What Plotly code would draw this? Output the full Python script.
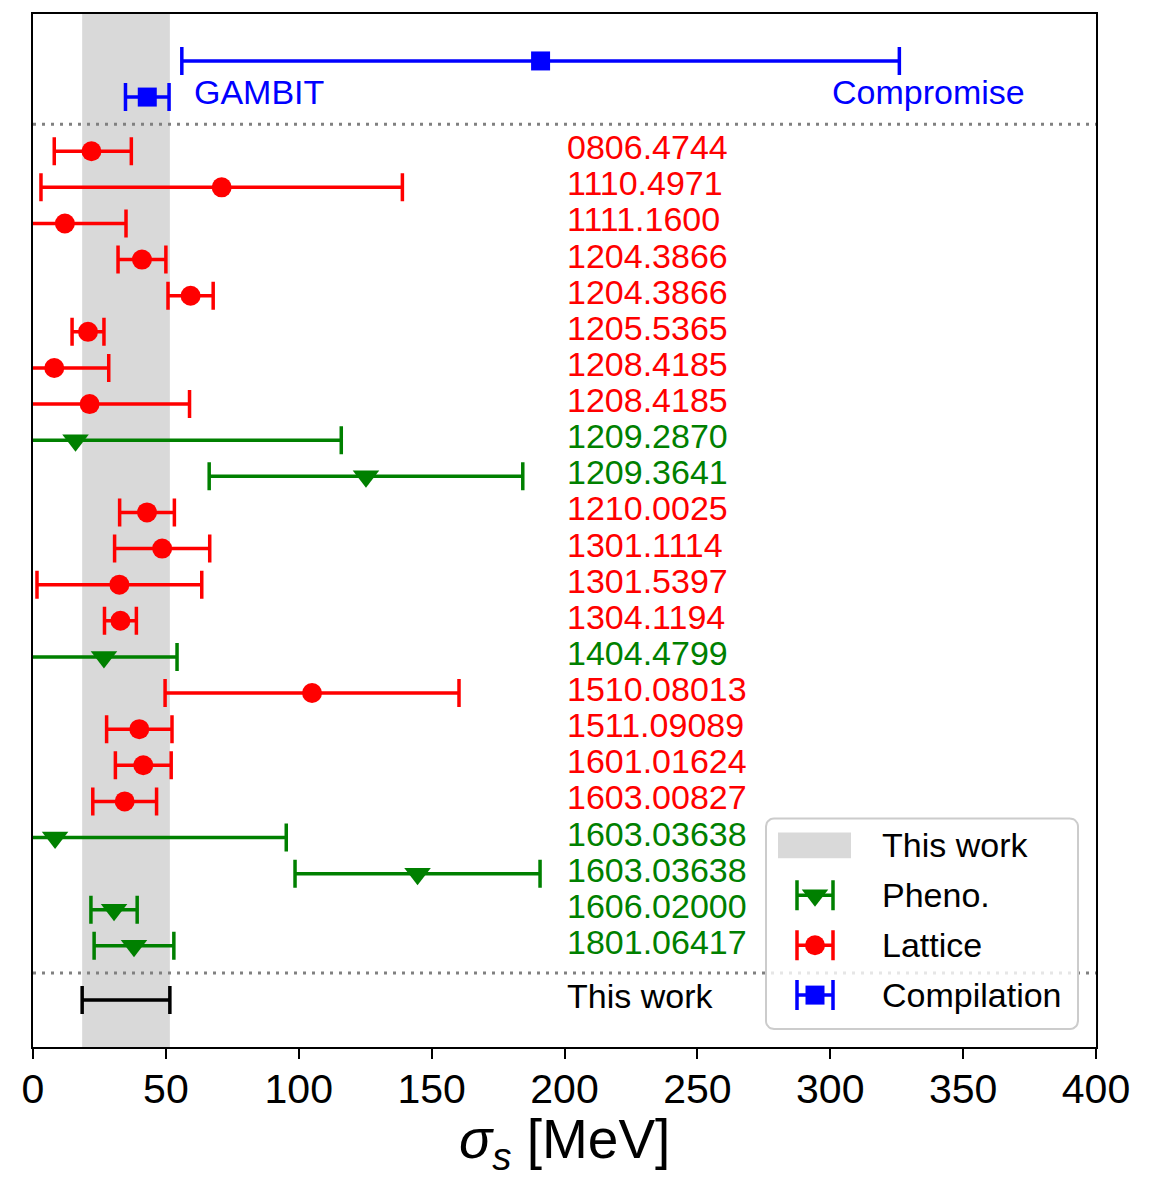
import numpy as np
import plotly.graph_objects as go

# ---------------- data ----------------
labels = ["0806.4744", "1110.4971", "1111.1600", "1204.3866", "1204.3866",
          "1205.5365", "1208.4185", "1208.4185", "1209.2870", "1209.3641",
          "1210.0025", "1301.1114", "1301.5397", "1304.1194", "1404.4799",
          "1510.08013", "1511.09089", "1601.01624", "1603.00827", "1603.03638",
          "1603.03638", "1606.02000", "1801.06417"]
kinds = ["L", "L", "L", "L", "L", "L", "L", "L", "P", "P", "L", "L", "L", "L",
         "P", "L", "L", "L", "L", "P", "P", "P", "P"]
values = [22, 71, 12, 41, 59.3, 20.7, 8, 21.3, 16, 125.3, 42.9, 48.6, 32.5,
          32.9, 26.7, 105, 40, 41.5, 34.5, 8.3, 144.7, 30.5, 38]
err_minus = [14, 68, 23, 9, 8.5, 6, 20.5, 37.6, 100, 59, 10.3, 17.9, 31, 6,
             27.5, 55.3, 12.3, 10.5, 12, 87, 46.1, 8.7, 15]
err_plus = [15, 68, 23, 9, 8.5, 6, 20.5, 37.6, 100, 59, 10.3, 17.9, 31, 6,
            27.5, 55.3, 12.3, 10.5, 12, 87, 46.1, 8.7, 15]

comp_names = ["Compromise", "GAMBIT"]
comp_values = [191, 43]
comp_err = [135, 8.2]

this_work_label = "This work"
this_work_value = 35
this_work_err = 16.5

legend_labels = ["This work", "Pheno.", "Lattice", "Compilation"]
xticks = [0, 50, 100, 150, 200, 250, 300, 350, 400]

# ---------------- styles ----------------
RED, GREEN, BLUE, GRAY = "#ff0000", "#008000", "#0000ff", "#d9d9d9"
FONT = "Liberation Sans, Arial, Helvetica, sans-serif"
colors = {"L": RED, "P": GREEN}
symbols = {"L": "circle", "P": "triangle-down"}
msize = {"L": 20, "P": 23}
names = {"L": "Lattice", "P": "Pheno."}
EB_T, EB_W = 3.5, 14

W, H = 1156, 1177
ML, MR, MT, MB = 33, 60, 12, 130
YR = [24.8, -3.8]  # reversed y range (rows go downward)
XR = [0, 400]

fig = go.Figure()

# main data traces
for k in ["L", "P"]:
    idx = [i for i, kk in enumerate(kinds) if kk == k]
    fig.add_trace(go.Scatter(
        x=[values[i] for i in idx], y=idx, mode="markers",
        marker=dict(symbol=symbols[k], size=msize[k], color=colors[k]),
        error_x=dict(type="data", symmetric=False,
                     array=[err_plus[i] for i in idx],
                     arrayminus=[err_minus[i] for i in idx],
                     color=colors[k], thickness=EB_T, width=EB_W),
        name=names[k], showlegend=False))

comp_rows = [-2.5, -1.5]
fig.add_trace(go.Scatter(
    x=comp_values, y=comp_rows, mode="markers",
    marker=dict(symbol="square", size=19, color=BLUE),
    error_x=dict(type="data", array=comp_err, color=BLUE, thickness=EB_T, width=EB_W),
    name="Compilation", showlegend=False))

tw_row = len(labels) + 0.5
fig.add_trace(go.Scatter(
    x=[this_work_value], y=[tw_row], mode="markers",
    marker=dict(size=1, color="black", opacity=0),
    error_x=dict(type="data", array=[this_work_err], color="black", thickness=EB_T, width=EB_W),
    name=this_work_label, showlegend=False))

# shaded band for this work
fig.add_shape(type="rect", xref="x", yref="y",
              x0=this_work_value - this_work_err, x1=this_work_value + this_work_err,
              y0=YR[0], y1=YR[1], fillcolor=GRAY, line_width=0, layer="below")
# dotted separators
for yy in [-0.75, len(labels) - 0.25]:
    fig.add_shape(type="line", xref="x", yref="y", x0=XR[0], x1=XR[1], y0=yy, y1=yy,
                  line=dict(color="#808080", width=3, dash="3px,6px"), layer="below")

# labels
ann = []
for i, (lab, k) in enumerate(zip(labels, kinds)):
    ann.append(dict(x=200, y=i, xref="x", yref="y", text=lab, showarrow=False,
                    xanchor="left", yanchor="middle", yshift=4,
                    font=dict(family=FONT, size=34, color=colors[k])))
ann.append(dict(x=60, y=-1.5, xref="x", yref="y", text=comp_names[1], showarrow=False,
                xanchor="left", yanchor="middle", yshift=5,
                font=dict(family=FONT, size=34, color=BLUE)))
ann.append(dict(x=300, y=-1.5, xref="x", yref="y", text=comp_names[0], showarrow=False,
                xanchor="left", yanchor="middle", yshift=5,
                font=dict(family=FONT, size=34, color=BLUE)))
ann.append(dict(x=200, y=tw_row, xref="x", yref="y", text=this_work_label, showarrow=False,
                xanchor="left", yanchor="middle", yshift=4,
                font=dict(family=FONT, size=34, color="black")))
# axis title
ann.append(dict(x=0.5, y=-96 / (H - MT - MB), xref="paper", yref="paper",
                text="<i>σ<sub>s</sub></i> [MeV]", showarrow=False,
                xanchor="center", yanchor="middle",
                font=dict(family=FONT, size=55, color="black")))

# ---------------- hand-drawn legend (pixel canvas on x2/y2) ----------------
bx0, bx1, by0, by1, rr = 766, 1078, 818, 1029, 8
t = np.linspace(0, np.pi / 2, 8)
px, py = [], []
for cx, cy, a0 in [(bx1 - rr, by0 + rr, -np.pi / 2), (bx1 - rr, by1 - rr, 0),
                   (bx0 + rr, by1 - rr, np.pi / 2), (bx0 + rr, by0 + rr, np.pi)]:
    px += list(cx + rr * np.cos(a0 + t))
    py += list(cy + rr * np.sin(a0 + t))
px.append(px[0]); py.append(py[0])
fig.add_trace(go.Scatter(x=px, y=py, xaxis="x2", yaxis="y2", mode="lines", fill="toself",
                         fillcolor="rgba(255,255,255,0.8)", line=dict(color="#cccccc", width=2),
                         hoverinfo="skip", showlegend=False))
fig.add_trace(go.Scatter(x=[778, 851, 851, 778, 778], y=[832, 832, 858, 858, 832],
                         xaxis="x2", yaxis="y2", mode="lines", fill="toself",
                         fillcolor=GRAY, line=dict(width=0, color=GRAY),
                         hoverinfo="skip", showlegend=False))
leg_y = [845, 895, 945, 995]
leg_style = [None, ("triangle-down", GREEN, 23), ("circle", RED, 20), ("square", BLUE, 19)]
for yy, st in zip(leg_y[1:], leg_style[1:]):
    fig.add_trace(go.Scatter(x=[815], y=[yy], xaxis="x2", yaxis="y2", mode="markers",
                             marker=dict(symbol=st[0], color=st[1], size=st[2]),
                             error_x=dict(type="data", array=[18], color=st[1],
                                          thickness=EB_T, width=15),
                             hoverinfo="skip", showlegend=False))
for yy, lab in zip(leg_y, legend_labels):
    ann.append(dict(x=880, y=yy, xref="x2", yref="y2", text=lab, showarrow=False,
                    xanchor="left", yanchor="middle", font=dict(family=FONT, size=34, color="black")))

fig.update_layout(
    width=W, height=H, margin=dict(l=ML, r=MR, t=MT, b=MB),
    paper_bgcolor="white", plot_bgcolor="white", showlegend=False,
    annotations=ann,
    xaxis=dict(range=XR, tickvals=xticks, ticks="outside", ticklen=10, tickwidth=2,
               tickcolor="black", showline=True, linewidth=2, linecolor="black", mirror=True,
               showgrid=False, zeroline=False, ticklabelstandoff=-5,
               tickfont=dict(family=FONT, size=41, color="black")),
    yaxis=dict(range=YR, showticklabels=False, ticks="", showline=True, linewidth=2,
               linecolor="black", mirror=True, showgrid=False, zeroline=False),
    xaxis2=dict(range=[ML, W - MR], overlaying="x", visible=False, anchor="y2"),
    yaxis2=dict(range=[H - MB, MT], overlaying="y", visible=False, anchor="x2"),
)

fig.write_html("out.html")
